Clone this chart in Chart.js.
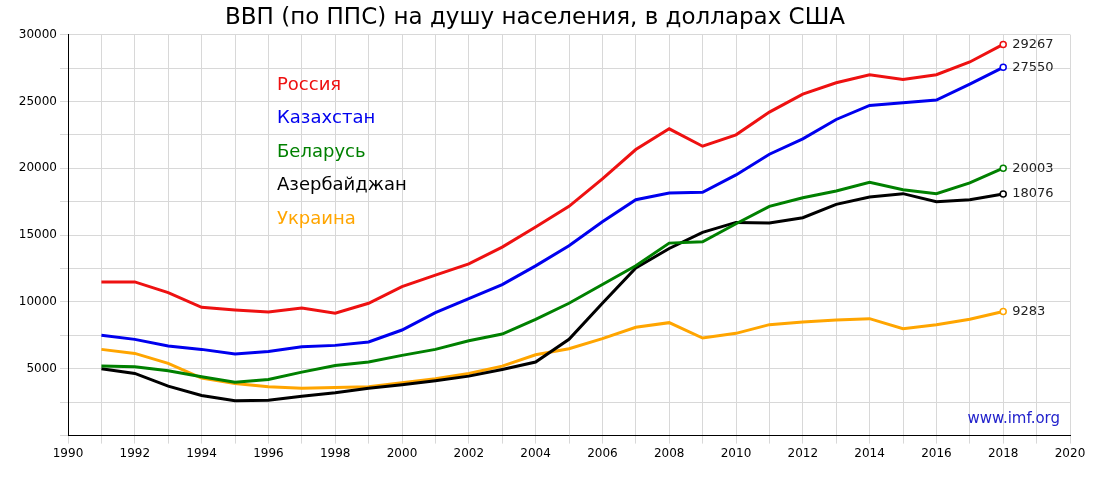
<!DOCTYPE html>
<html><head><meta charset="utf-8">
<script src="https://cdn.jsdelivr.net/npm/chart.js@4/dist/chart.umd.min.js"></script>
<style>body{margin:0;background:#fff}#wrap{width:1100px;height:478px}</style>
</head><body><div id="wrap"><canvas id="c"></canvas></div>
<script>
const years = [1991,1992,1993,1994,1995,1996,1997,1998,1999,2000,2001,2002,2003,2004,2005,2006,2007,2008,2009,2010,2011,2012,2013,2014,2015,2016,2017,2018];
const russia = [11500,11500,10700,9600,9400,9250,9550,9150,9900,11150,12000,12850,14100,15600,17150,19200,21400,22950,21650,22500,24200,25550,26400,27000,26650,27000,27950,29267];
const kazakhstan = [7500,7200,6700,6450,6100,6300,6650,6750,7000,7900,9200,10250,11300,12700,14200,16000,17650,18150,18200,19500,21050,22200,23650,24700,24900,25100,26300,27550];
const belarus = [5200,5150,4850,4400,4000,4200,4750,5250,5500,6000,6450,7100,7600,8700,9900,11300,12700,14400,14500,15850,17150,17800,18300,18950,18400,18100,18900,20003];
const azerbaijan = [5000,4650,3700,3000,2600,2650,2950,3200,3550,3800,4100,4450,4950,5500,7200,9900,12550,14000,15200,15950,15900,16300,17300,17850,18100,17500,17650,18076];
const ukraine = [6450,6150,5400,4300,3900,3650,3550,3600,3650,3950,4250,4650,5200,6050,6500,7250,8100,8450,7300,7650,8300,8500,8650,8750,8000,8300,8700,9283];
const names = ['Россия','Казахстан','Беларусь','Азербайджан','Украина'];
const colors = ['#ee1111','#0000ee','#008000','#000000','#ffa500'];
const series = [russia,kazakhstan,belarus,azerbaijan,ukraine];

function mk(vals,i){
  const last = vals.length-1;
  return {
    label: names[i],
    data: vals.map((v,j)=>({x:years[j],y:v})),
    borderColor: colors[i], backgroundColor:'#fff', borderWidth:3,
    pointRadius: vals.map((v,j)=>j===last?3:0),
    pointBorderWidth:1.5, tension:0
  };
}

const overlay = {
  id:'overlay',
  afterDatasetsDraw(chart){
    const ctx = chart.ctx;
    ctx.save();
    ctx.font = '18px "DejaVu Sans"';
    ctx.textBaseline = 'middle';
    names.forEach((n,i)=>{ ctx.fillStyle = colors[i]; ctx.fillText(n,277,85+i*33.6); });
    ctx.font = '13px "DejaVu Sans"';
    ctx.fillStyle = '#222';
    chart.data.datasets.forEach((ds,i)=>{
      const meta = chart.getDatasetMeta(i);
      const p = meta.data[meta.data.length-1];
      const v = series[i][series[i].length-1];
      ctx.fillText(String(v), p.x+9, p.y);
    });
    ctx.font = '15px "DejaVu Sans"';
    ctx.fillStyle = '#2222cc';
    ctx.textAlign = 'right';
    ctx.fillText('www.imf.org', 1060, 419);
    ctx.restore();
  }
};

new Chart(document.getElementById('c'), {
  type:'line',
  data:{datasets: series.map(mk)},
  options:{
    responsive:true, maintainAspectRatio:false, animation:false,
    layout:{padding:{right:30,left:0,top:0,bottom:14}},
    plugins:{
      legend:{display:false}, tooltip:{enabled:false},
      title:{display:true,text:'ВВП (по ППС) на душу населения, в долларах США',
        font:{family:'DejaVu Sans',size:23,weight:'normal'},color:'#000',padding:{top:4,bottom:3}}
    },
    scales:{
      x:{type:'linear',min:1990,max:2020,
        grid:{color:'#d8d8d8'},border:{color:'#000'},
        ticks:{stepSize:1,autoSkip:false,maxRotation:0,color:'#000',font:{family:'DejaVu Sans',size:12},
          callback:v=>v%2===0?String(v):''}},
      y:{min:0,max:30000,
        grid:{color:'#d8d8d8'},border:{color:'#000'},
        afterFit(s){s.width=68;},
        ticks:{stepSize:2500,color:'#000',font:{family:'DejaVu Sans',size:12},
          callback:v=>(v%5000===0&&v>0)?String(v):''}}
    }
  },
  plugins:[overlay]
});
</script></body></html>
